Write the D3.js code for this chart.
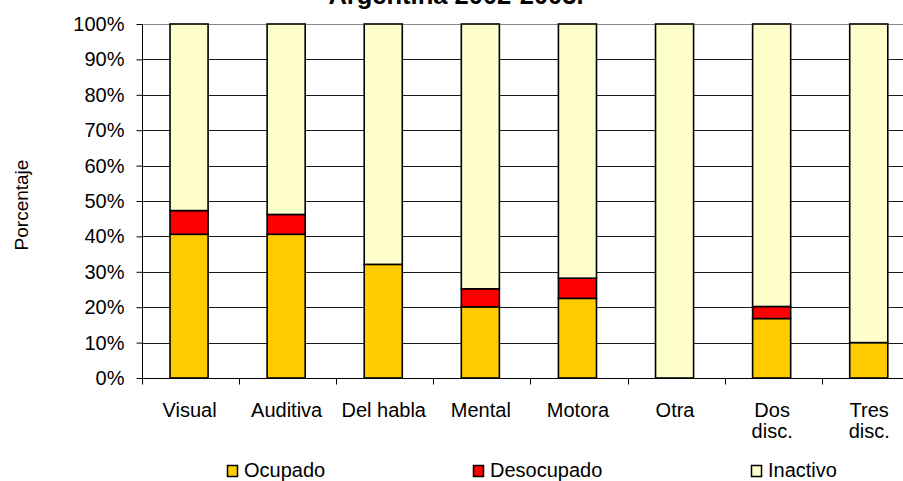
<!DOCTYPE html>
<html>
<head>
<meta charset="utf-8">
<script src="https://cdn.jsdelivr.net/npm/d3@7"></script>
<style>
  html, body { margin: 0; padding: 0; background: #fff; }
  svg { display: block; font-family: Arial, "Liberation Sans", sans-serif; }
</style>
</head>
<body>
<svg id="chart" width="903" height="481"></svg>
<script>
const categories = [["Visual"], ["Auditiva"], ["Del habla"], ["Mental"], ["Motora"], ["Otra"], ["Dos", "disc."], ["Tres", "disc."]];
const ocupado    = [40.6, 40.6, 32.1, 20.1, 22.5, 0, 16.8, 10.0];
const desocupado = [6.7, 5.6, 0, 5.1, 5.7, 0, 3.4, 0];
const inactivo   = [52.7, 53.8, 67.9, 74.8, 71.8, 100, 79.8, 90.0];
const seriesNames = ["Ocupado", "Desocupado", "Inactivo"];
const seriesColors = ["#FFCC00", "#FF0000", "#FFFFCC"];
const yTicks = [0, 10, 20, 30, 40, 50, 60, 70, 80, 90, 100];
const titleText = "Argentina 2002-2003.";
const yTitle = "Porcentaje";

const rows = categories.map((c, i) => ({
  key: i,
  Ocupado: ocupado[i],
  Desocupado: desocupado[i],
  Inactivo: inactivo[i]
}));

const svg = d3.select("#chart");
const pLeft = 142, pRight = 918.8, pTop = 24, pBottom = 378;
const fs = 20;

const x = d3.scaleBand().domain(d3.range(categories.length)).range([pLeft, pRight]).paddingInner(0.608).paddingOuter(0.304);
const y = d3.scaleLinear().domain([0, 100]).range([pBottom, pTop]);

// gridlines
svg.append("g").selectAll("line").data(yTicks.filter(t => t > 0)).join("line")
  .attr("x1", pLeft).attr("x2", 903)
  .attr("y1", d => Math.round(y(d)) + 0.5).attr("y2", d => Math.round(y(d)) + 0.5)
  .attr("stroke", d => d === 100 ? "#888" : "#1a1a1a").attr("stroke-width", 1);

// title
svg.append("text").attr("x", 456).attr("y", 4).attr("text-anchor", "middle")
  .attr("font-weight", "bold").attr("font-size", 25.5).attr("fill", "#000").text(titleText);

// stacked bars
const stack = d3.stack().keys(seriesNames);
const stacked = stack(rows);
const g = svg.append("g");
stacked.forEach((s, si) => {
  g.append("g").selectAll("rect").data(s).join("rect")
    .attr("x", (d, i) => x(i) - 1.5)
    .attr("width", x.bandwidth())
    .attr("y", d => y(d[1]))
    .attr("height", d => Math.max(0, y(d[0]) - y(d[1])))
    .attr("fill", seriesColors[si])
    .attr("stroke", "#000")
    .attr("stroke-width", 1.6)
    .style("display", d => (d[1] - d[0]) > 0 ? null : "none");
});

// y axis
const yAxis = d3.axisLeft(y).tickValues(yTicks).tickFormat(d => d + "%").tickSize(6).tickSizeOuter(0);
const ya = svg.append("g").attr("transform", `translate(${pLeft + 0.5},0)`).call(yAxis);
ya.select(".domain").attr("stroke", "#000").attr("d", `M0,${pTop}V${pBottom + 6}`);
ya.selectAll(".tick line").attr("stroke", "#000");
ya.selectAll(".tick text").attr("font-size", fs).attr("fill", "#000").attr("x", -18)
  .attr("font-family", "Arial, 'Liberation Sans', sans-serif");

// x axis
const xa = svg.append("g").attr("transform", `translate(0,${pBottom + 0.5})`);
xa.append("line").attr("x1", pLeft).attr("x2", 903).attr("y1", 0).attr("y2", 0).attr("stroke", "#000");
const step = x.step();
const boundaries = d3.range(categories.length + 1).map(i => pLeft + i * step);
xa.selectAll("line.tk").data(boundaries).join("line").attr("class", "tk")
  .attr("x1", d => Math.round(d) + 0.5).attr("x2", d => Math.round(d) + 0.5)
  .attr("y1", 0).attr("y2", 6).attr("stroke", "#000");
const lbl = xa.selectAll("text.cat").data(categories).join("text").attr("class", "cat")
  .attr("text-anchor", "middle").attr("font-size", fs).attr("fill", "#000")
  .attr("x", (d, i) => x(i) + x.bandwidth() / 2 - 1)
  .attr("y", 38.5);
lbl.selectAll("tspan").data(d => d).join("tspan")
  .attr("x", function() { return d3.select(this.parentNode).attr("x"); })
  .attr("dy", (d, i) => i === 0 ? 0 : 21)
  .text(d => d);

// y title
svg.append("text").attr("transform", "translate(28,205) rotate(-90)").attr("text-anchor", "middle")
  .attr("font-size", 19).attr("fill", "#000").text(yTitle);

// legend
const legendX = [227, 473, 751];
const lg = svg.append("g").selectAll("g").data(seriesNames).join("g")
  .attr("transform", (d, i) => `translate(${legendX[i]},0)`);
lg.append("rect").attr("x", 0.5).attr("y", 465.5).attr("width", 10).attr("height", 11)
  .attr("fill", (d, i) => seriesColors[i]).attr("stroke", "#000").attr("stroke-width", 1.5);
lg.append("text").attr("x", 17).attr("y", 477).attr("font-size", fs).attr("fill", "#000").text(d => d);
</script>
</body>
</html>
